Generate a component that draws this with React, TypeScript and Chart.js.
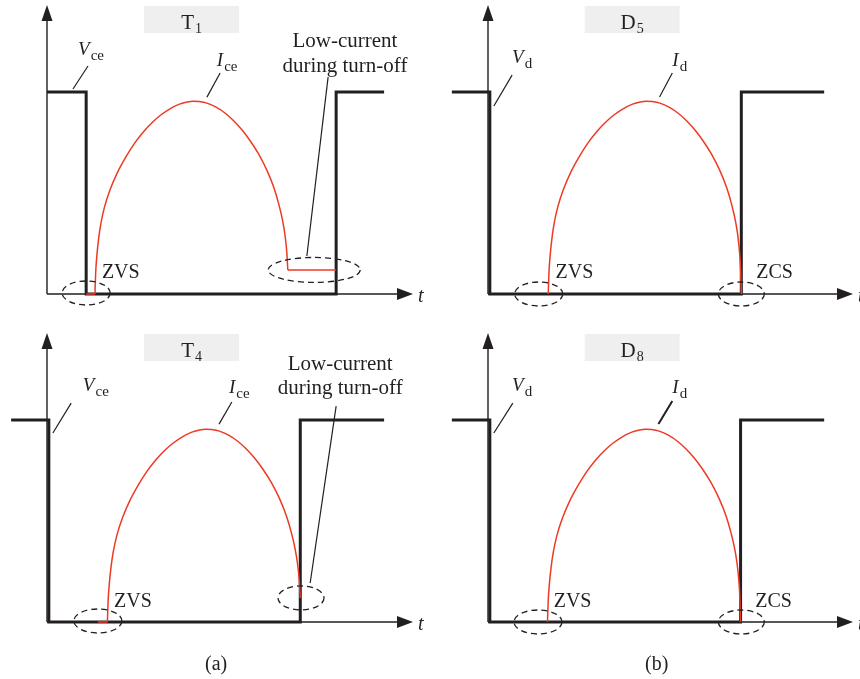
import React, { useEffect, useRef } from 'react';
import { Chart, registerables } from 'chart.js';

Chart.register(...registerables);

type Pt = [number, number];

// Normalised time axis (t) and normalised level axis (1 = blocking voltage)
const T_MAX = 10;
const V_MAX = 1.431;

// ---- T1: collector-emitter voltage and current ----
const T1_VCE: Pt[] = [[0, 1], [1.07, 1], [1.07, 0], [7.9, 0], [7.9, 1], [9.21, 1]];
const T1_ICE_ZVS: Pt[] = [[1.07, 0], [1.31, 0]];
const T1_ICE_ARC: Pt[] = [
  [1.31, 0], [1.33, 0.105], [1.36, 0.185], [1.41, 0.273], [1.47, 0.347], [1.57, 0.43],
  [1.72, 0.515], [1.92, 0.6], [2.16, 0.68], [2.39, 0.746], [2.62, 0.8], [2.86, 0.847],
  [3.1, 0.885], [3.36, 0.917], [3.62, 0.94], [3.83, 0.951], [4.0, 0.955], [4.16, 0.953],
  [4.37, 0.945], [4.62, 0.925], [4.87, 0.895], [5.1, 0.858], [5.33, 0.812], [5.55, 0.759],
  [5.78, 0.694], [6.01, 0.612], [6.2, 0.526], [6.34, 0.44], [6.44, 0.361], [6.5, 0.295],
  [6.55, 0.211], [6.58, 0.119],
];
const T1_ICE_TAIL: Pt[] = [[6.58, 0.119], [7.9, 0.119]];

// ---- D5: diode voltage and current ----
const D5_VD: Pt[] = [[-0.99, 1], [0.05, 1], [0.05, 0], [6.94, 0], [6.94, 1], [9.21, 1]];
const D5_ID: Pt[] = [
  [1.65, 0], [1.67, 0.105], [1.7, 0.185], [1.75, 0.273], [1.81, 0.347], [1.91, 0.43],
  [2.06, 0.515], [2.26, 0.6], [2.5, 0.68], [2.73, 0.746], [2.96, 0.8], [3.2, 0.847],
  [3.44, 0.885], [3.7, 0.917], [3.96, 0.94], [4.17, 0.951], [4.34, 0.955], [4.5, 0.953],
  [4.71, 0.945], [4.96, 0.925], [5.21, 0.895], [5.44, 0.858], [5.67, 0.812], [5.89, 0.759],
  [6.12, 0.694], [6.35, 0.612], [6.54, 0.526], [6.68, 0.44], [6.78, 0.361], [6.84, 0.295],
  [6.89, 0.211], [6.92, 0.125], [6.94, 0],
];

// ---- T4: collector-emitter voltage and current ----
const T4_VCE: Pt[] = [[-0.98, 1], [0.05, 1], [0.05, 0], [6.92, 0], [6.92, 1], [9.21, 1]];
const T4_ICE_ZVS: Pt[] = [[1.39, 0], [1.65, 0]];
const T4_ICE_ARC: Pt[] = [
  [1.65, 0], [1.67, 0.105], [1.7, 0.185], [1.75, 0.273], [1.81, 0.347], [1.91, 0.43],
  [2.06, 0.515], [2.26, 0.6], [2.5, 0.68], [2.73, 0.746], [2.96, 0.8], [3.2, 0.847],
  [3.44, 0.885], [3.7, 0.917], [3.96, 0.94], [4.17, 0.951], [4.34, 0.955], [4.5, 0.953],
  [4.71, 0.945], [4.96, 0.925], [5.21, 0.895], [5.44, 0.858], [5.67, 0.812], [5.89, 0.759],
  [6.12, 0.694], [6.35, 0.612], [6.54, 0.526], [6.68, 0.44], [6.78, 0.361], [6.84, 0.295],
  [6.89, 0.211], [6.92, 0.119],
];

// ---- D8: diode voltage and current ----
const D8_VD: Pt[] = [[-0.99, 1], [0.05, 1], [0.05, 0], [6.92, 0], [6.92, 1], [9.21, 1]];
const D8_ID: Pt[] = [
  [1.63, 0], [1.65, 0.105], [1.68, 0.185], [1.73, 0.273], [1.79, 0.347], [1.89, 0.43],
  [2.04, 0.515], [2.24, 0.6], [2.48, 0.68], [2.71, 0.746], [2.94, 0.8], [3.18, 0.847],
  [3.42, 0.885], [3.68, 0.917], [3.94, 0.94], [4.15, 0.951], [4.32, 0.955], [4.48, 0.953],
  [4.69, 0.945], [4.94, 0.925], [5.19, 0.895], [5.42, 0.858], [5.65, 0.812], [5.87, 0.759],
  [6.1, 0.694], [6.33, 0.612], [6.52, 0.526], [6.66, 0.44], [6.76, 0.361], [6.82, 0.295],
  [6.87, 0.211], [6.9, 0.125], [6.92, 0],
];

const SERIF = '"Liberation Serif", "Times New Roman", serif';
const INK = '#231f20';
const RED = '#ee3a24';
const BOX_GRAY = '#efeff0';

interface SubLabel { t: number; v: number; main: string; sub: string }
interface Leader { a: Pt; b: Pt; w?: number }
interface Ring { c: Pt; rx: number; ry: number }
interface Note { t: number; v: number; lines: string[]; align: CanvasTextAlign; size: number }
interface Segment { pts: Pt[]; smooth: boolean }

interface PanelSpec {
  key: string;
  left: number; top: number; width: number; height: number;
  pad: { left: number; right: number; top: number; bottom: number };
  voltage: Pt[];
  current: Segment[];
  title: [string, string];
  labels: SubLabel[];
  leaders: Leader[];
  rings: Ring[];
  notes: Note[];
}

const TITLE_BOX = { t0: 2.65, t1: 5.25, v0: 1.292, v1: 1.426 };
const AXIS_NAME = { t: 10.14, v: -0.04, text: 't' };

const PANELS: PanelSpec[] = [
  {
    key: 'T1', left: 0, top: 0, width: 430, height: 320,
    pad: { left: 47, right: 17, top: 5, bottom: 26 },
    voltage: T1_VCE,
    current: [
      { pts: T1_ICE_ZVS, smooth: false },
      { pts: T1_ICE_ARC, smooth: true },
      { pts: T1_ICE_TAIL, smooth: false },
    ],
    title: ['T', '1'],
    labels: [
      { t: 0.85, v: 1.183, main: 'V', sub: 'ce' },
      { t: 4.64, v: 1.129, main: 'I', sub: 'ce' },
    ],
    leaders: [
      { a: [1.12, 1.129], b: [0.71, 1.015] },
      { a: [4.73, 1.094], b: [4.37, 0.975] },
      { a: [7.68, 1.074], b: [7.1, 0.188] },
    ],
    rings: [
      { c: [1.07, 0.005], rx: 24, ry: 12 },
      { c: [7.3, 0.119], rx: 46, ry: 12.5 },
    ],
    notes: [
      { t: 8.14, v: 1.223, lines: ['Low-current', 'during turn-off'], align: 'center', size: 21 },
      { t: 1.5, v: 0.079, lines: ['ZVS'], align: 'left', size: 20 },
    ],
  },
  {
    key: 'D5', left: 430, top: 0, width: 430, height: 320,
    pad: { left: 58, right: 7, top: 5, bottom: 26 },
    voltage: D5_VD,
    current: [{ pts: D5_ID, smooth: true }],
    title: ['D', '5'],
    labels: [
      { t: 0.66, v: 1.144, main: 'V', sub: 'd' },
      { t: 5.05, v: 1.129, main: 'I', sub: 'd' },
    ],
    leaders: [
      { a: [0.66, 1.084], b: [0.16, 0.931] },
      { a: [5.05, 1.094], b: [4.7, 0.975] },
    ],
    rings: [
      { c: [1.39, 0], rx: 24, ry: 12 },
      { c: [6.94, 0], rx: 23, ry: 12 },
    ],
    notes: [
      { t: 1.85, v: 0.079, lines: ['ZVS'], align: 'left', size: 20 },
      { t: 7.35, v: 0.079, lines: ['ZCS'], align: 'left', size: 20 },
    ],
  },
  {
    key: 'T4', left: 0, top: 320, width: 430, height: 359,
    pad: { left: 47, right: 17, top: 13, bottom: 57 },
    voltage: T4_VCE,
    current: [
      { pts: T4_ICE_ZVS, smooth: false },
      { pts: T4_ICE_ARC, smooth: true },
    ],
    title: ['T', '4'],
    labels: [
      { t: 0.98, v: 1.144, main: 'V', sub: 'ce' },
      { t: 4.97, v: 1.134, main: 'I', sub: 'ce' },
    ],
    leaders: [
      { a: [0.66, 1.084], b: [0.16, 0.936] },
      { a: [5.05, 1.089], b: [4.7, 0.98] },
      { a: [7.9, 1.069], b: [7.19, 0.193] },
    ],
    rings: [
      { c: [1.39, 0.005], rx: 24, ry: 12 },
      { c: [6.94, 0.119], rx: 23, ry: 12 },
    ],
    notes: [
      { t: 8.01, v: 1.248, lines: ['Low-current', 'during turn-off'], align: 'center', size: 21 },
      { t: 1.83, v: 0.074, lines: ['ZVS'], align: 'left', size: 20 },
      { t: 4.62, v: -0.238, lines: ['(a)'], align: 'center', size: 20 },
    ],
  },
  {
    key: 'D8', left: 430, top: 320, width: 430, height: 359,
    pad: { left: 58, right: 7, top: 13, bottom: 57 },
    voltage: D8_VD,
    current: [{ pts: D8_ID, smooth: true }],
    title: ['D', '8'],
    labels: [
      { t: 0.66, v: 1.144, main: 'V', sub: 'd' },
      { t: 5.05, v: 1.134, main: 'I', sub: 'd' },
    ],
    leaders: [
      { a: [0.68, 1.084], b: [0.16, 0.936] },
      { a: [5.05, 1.094], b: [4.67, 0.98], w: 2 },
    ],
    rings: [
      { c: [1.37, 0], rx: 24, ry: 12 },
      { c: [6.94, 0], rx: 23, ry: 12 },
    ],
    notes: [
      { t: 1.8, v: 0.074, lines: ['ZVS'], align: 'left', size: 20 },
      { t: 7.32, v: 0.074, lines: ['ZCS'], align: 'left', size: 20 },
      { t: 4.62, v: -0.238, lines: ['(b)'], align: 'center', size: 20 },
    ],
  },
];

function drawWithSub(
  ctx: CanvasRenderingContext2D, x: number, y: number, main: string, sub: string,
  mainFont: string, subFont: string, dy: number, align: 'left' | 'center',
) {
  ctx.font = mainFont;
  const wMain = ctx.measureText(main).width;
  ctx.font = subFont;
  const wSub = ctx.measureText(sub).width;
  const x0 = align === 'center' ? x - (wMain + wSub + 1) / 2 : x;
  ctx.textAlign = 'left';
  ctx.textBaseline = 'alphabetic';
  ctx.font = mainFont;
  ctx.fillText(main, x0, y);
  ctx.font = subFont;
  ctx.fillText(sub, x0 + wMain + 1, y + dy);
}

function decorPlugin(spec: PanelSpec) {
  return {
    id: 'panelDecor',
    beforeDatasetsDraw(chart: Chart) {
      const ctx = chart.ctx;
      const xs = chart.scales.x;
      const ys = chart.scales.y;
      const { top, right } = chart.chartArea;
      const ox = xs.getPixelForValue(0);
      const oy = ys.getPixelForValue(0);
      ctx.save();

      // title box
      const bx0 = xs.getPixelForValue(TITLE_BOX.t0);
      const bx1 = xs.getPixelForValue(TITLE_BOX.t1);
      const by0 = ys.getPixelForValue(TITLE_BOX.v1);
      const by1 = ys.getPixelForValue(TITLE_BOX.v0);
      ctx.fillStyle = BOX_GRAY;
      ctx.fillRect(bx0, by0, bx1 - bx0, by1 - by0);
      ctx.fillStyle = INK;
      drawWithSub(ctx, (bx0 + bx1) / 2, by1 - 4, spec.title[0], spec.title[1],
        `21px ${SERIF}`, `14px ${SERIF}`, 4, 'center');

      // axes with arrow heads
      ctx.strokeStyle = INK;
      ctx.fillStyle = INK;
      ctx.lineWidth = 1.4;
      ctx.beginPath();
      ctx.moveTo(ox, oy);
      ctx.lineTo(ox, top + 12);
      ctx.moveTo(ox, oy);
      ctx.lineTo(right - 12, oy);
      ctx.stroke();
      ctx.beginPath();
      ctx.moveTo(ox, top);
      ctx.lineTo(ox - 5.5, top + 16);
      ctx.lineTo(ox + 5.5, top + 16);
      ctx.closePath();
      ctx.fill();
      ctx.beginPath();
      ctx.moveTo(right, oy);
      ctx.lineTo(right - 16, oy - 6);
      ctx.lineTo(right - 16, oy + 6);
      ctx.closePath();
      ctx.fill();
      ctx.restore();
    },
    afterDatasetsDraw(chart: Chart) {
      const ctx = chart.ctx;
      const xs = chart.scales.x;
      const ys = chart.scales.y;
      const px = (t: number) => xs.getPixelForValue(t);
      const py = (v: number) => ys.getPixelForValue(v);
      ctx.save();
      ctx.strokeStyle = INK;
      ctx.fillStyle = INK;

      for (const l of spec.leaders) {
        ctx.lineWidth = l.w ?? 1.2;
        ctx.beginPath();
        ctx.moveTo(px(l.a[0]), py(l.a[1]));
        ctx.lineTo(px(l.b[0]), py(l.b[1]));
        ctx.stroke();
      }

      ctx.lineWidth = 1.3;
      ctx.setLineDash([6, 4]);
      for (const r of spec.rings) {
        ctx.beginPath();
        ctx.ellipse(px(r.c[0]), py(r.c[1]), r.rx, r.ry, 0, 0, Math.PI * 2);
        ctx.stroke();
      }
      ctx.setLineDash([]);

      for (const lb of spec.labels) {
        drawWithSub(ctx, px(lb.t), py(lb.v), lb.main, lb.sub,
          `italic 19px ${SERIF}`, `15px ${SERIF}`, 5, 'left');
      }

      ctx.textBaseline = 'alphabetic';
      for (const n of spec.notes) {
        ctx.font = `${n.size}px ${SERIF}`;
        ctx.textAlign = n.align;
        n.lines.forEach((s, i) => ctx.fillText(s, px(n.t), py(n.v) + i * 24.5));
      }
      ctx.font = `italic 20px ${SERIF}`;
      ctx.textAlign = 'left';
      ctx.fillText(AXIS_NAME.text, px(AXIS_NAME.t), py(AXIS_NAME.v));
      ctx.restore();
    },
  };
}

function toXY(pts: Pt[]) {
  return pts.map(([x, y]) => ({ x, y }));
}

function Panel({ spec }: { spec: PanelSpec }) {
  const ref = useRef<HTMLCanvasElement>(null);
  useEffect(() => {
    if (!ref.current) return;
    const currentSets = spec.current.map((seg) => ({
      data: toXY(seg.pts),
      borderColor: RED,
      borderWidth: 1.5,
      pointRadius: 0,
      fill: false,
      clip: false as const,
      order: 0,
      tension: seg.smooth ? 0.4 : 0,
      cubicInterpolationMode: seg.smooth ? ('monotone' as const) : ('default' as const),
      capBezierPoints: false,
    }));
    const chart = new Chart(ref.current, {
      type: 'line',
      data: {
        datasets: [
          ...currentSets,
          {
            data: toXY(spec.voltage),
            borderColor: INK,
            borderWidth: 3,
            borderJoinStyle: 'miter',
            pointRadius: 0,
            fill: false,
            clip: false as const,
            order: 1,
            tension: 0,
          },
        ],
      },
      options: {
        responsive: false,
        animation: false,
        events: [],
        layout: { padding: spec.pad },
        plugins: {
          legend: { display: false },
          tooltip: { enabled: false },
          title: { display: false },
        },
        scales: {
          x: { type: 'linear', min: 0, max: T_MAX, display: false },
          y: { type: 'linear', min: 0, max: V_MAX, display: false },
        },
      },
      plugins: [decorPlugin(spec)],
    });
    return () => chart.destroy();
  }, [spec]);
  return (
    <canvas
      ref={ref}
      width={spec.width}
      height={spec.height}
      style={{ position: 'absolute', left: spec.left, top: spec.top, width: spec.width, height: spec.height }}
    />
  );
}

export default function App() {
  return (
    <div style={{ position: 'absolute', left: 0, top: 0, width: 860, height: 679, background: '#fff', overflow: 'hidden' }}>
      {PANELS.map((p) => (
        <Panel key={p.key} spec={p} />
      ))}
    </div>
  );
}
